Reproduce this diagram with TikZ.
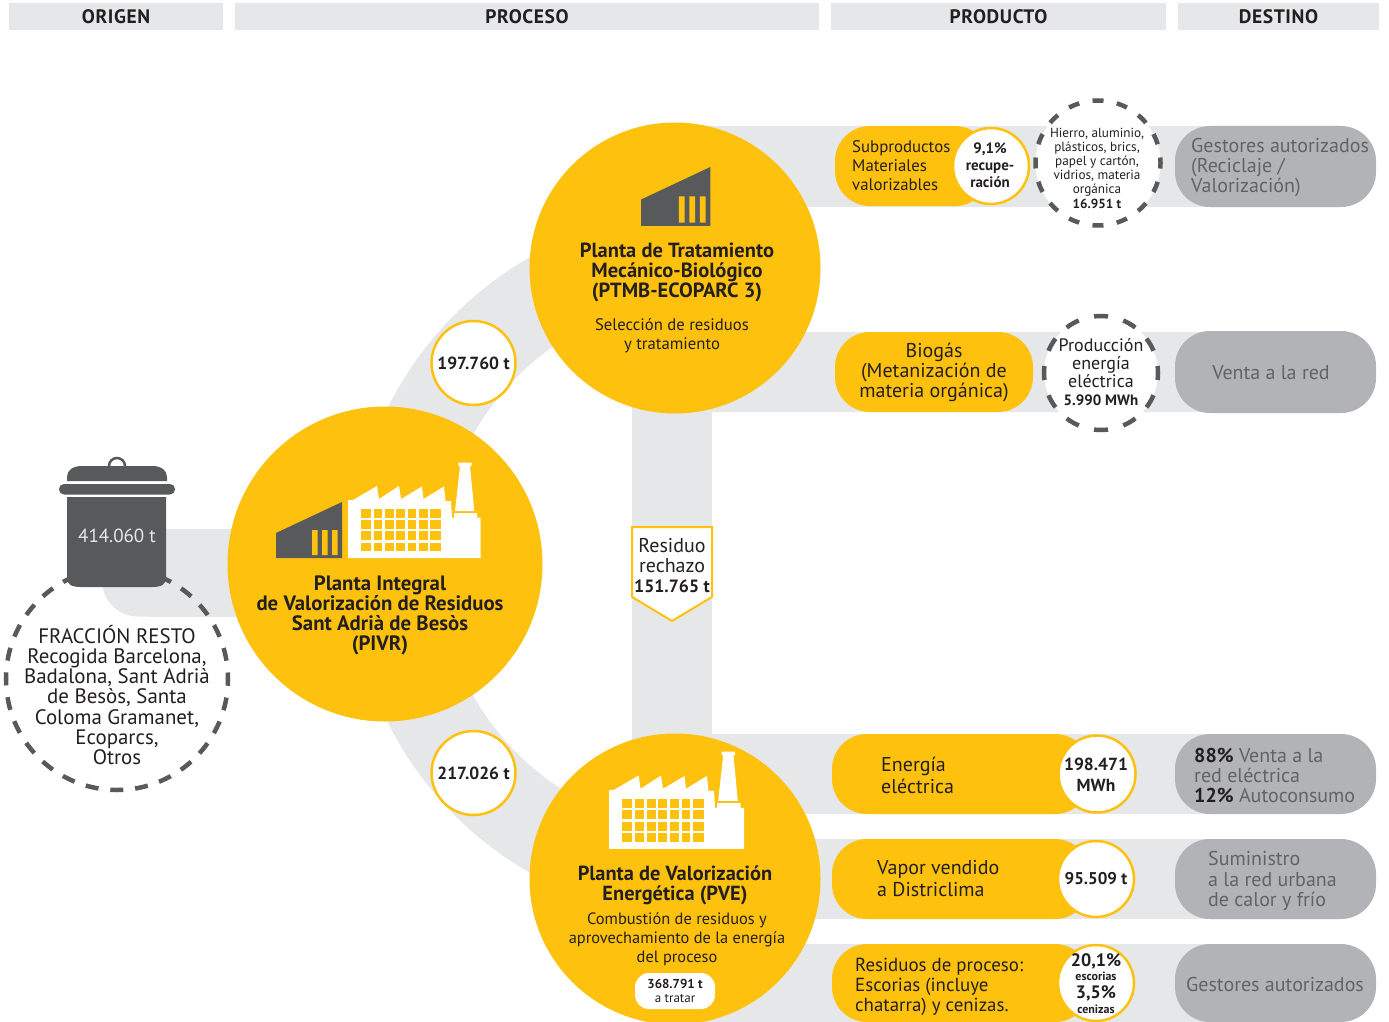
\documentclass[tikz,border=0pt]{standalone}
\usepackage{fontspec}
\setmainfont{PT Sans}
\definecolor{band}{HTML}{E6E7E8}
\definecolor{yel}{HTML}{FEC10E}
\definecolor{dk}{HTML}{58595B}
\definecolor{dest}{HTML}{B1B3B6}
\definecolor{ink}{HTML}{231F20}
\definecolor{desttxt}{HTML}{626366}
\newcommand{\fs}[2]{\fontsize{#1}{#2}\selectfont}
\tikzset{
  x=1pt,y=-1pt,
  hdr/.style={fill=band,minimum height=27pt,inner sep=0pt,font=\fs{19.5}{20}\bfseries\addfontfeature{LetterSpace=3},text=ink},
  bigc/.style={circle,fill=yel,inner sep=0pt},
  pill/.style={rounded corners=35pt,fill=yel,inner sep=0pt},
  destp/.style={rounded corners=35pt,fill=dest,inner sep=0pt},
  valc/.style={circle,fill=white,draw=yel,line width=2.5pt,inner sep=0pt,text=ink,align=center},
  dashc/.style={circle,draw=dk,line width=4.5pt,inner sep=0pt},
  bandl/.style={draw=band,line width=80pt},
  txt/.style={inner sep=0pt,align=center,text=ink},
  ltxt/.style={inner sep=0pt,align=left,text=ink,anchor=west},
  dtxt/.style={inner sep=0pt,align=left,text=desttxt,anchor=west},
}
\newcommand{\factory}{%
  \fill[white] (0,96)--(0,38)--(5,38)--(29,24)--(31,37)--(51,24)--(53,37)--(74,24.5)--(75.5,37)--(96,24.5)--(97.5,39)--(103,39)--(104,55.7)--(106,55.7)--(106,51)--(129,51)--(129,55.7)--(132.5,55.7)--(132.5,96)--cycle;
  \fill[white] (110.3,0.7)--(123.7,0.7)--(123.7,4)--(122,4)--(126.3,49)--(107,49)--(112,4)--(110.3,4)--cycle;
  \foreach \j in {0,...,3}{
    \fill[yel] (13,47+\j*11.2) rectangle ++(10,8.8);
    \fill[yel] (82,47+\j*11.2) rectangle ++(11,8.8);
    \foreach \i in {0,...,4}
      \fill[yel] (25.7+\i*11.35,47+\j*11.2) rectangle ++(8.7,8.8);
  }
}
\newcommand{\dkbuilding}{%
  \fill[dk] (0,56)--(0,31)--(66,0)--(66,56)--cycle;
  \fill[yel] (36,28) rectangle (41.5,53) (46,28) rectangle (51.5,53) (56,28) rectangle (61.5,53);
}
\begin{document}
\begin{tikzpicture}
\useasboundingbox (0,0) rectangle (1389,1022);
\clip (0,0) rectangle (1389,1022);
% headers
\node[hdr,minimum width=214pt] (h1) at (116,16.5) {\raisebox{-3pt}{ORIGEN}};
\node[hdr,minimum width=584pt] (h2) at (527,16.5) {\raisebox{-3pt}{PROCESO}};
\node[hdr,minimum width=335pt] (h3) at (998.5,16.5) {\raisebox{-3pt}{PRODUCTO}};
\node[hdr,minimum width=201pt] (h4) at (1278.5,16.5) {\raisebox{-3pt}{DESTINO}};
% positions
\coordinate (pivrc) at (385,564);
\coordinate (ptmbc) at (675,268);
\coordinate (pvec) at (675,879);
\coordinate (d1c) at (1275.5,166.5);
\coordinate (d2c) at (1275.5,372);
\coordinate (d3c) at (1275.5,774);
\coordinate (d4c) at (1275.5,879);
\coordinate (d5c) at (1275.5,983);
\coordinate (ringc) at (705,565);
% grey flows
\begin{scope}
  \clip (300,0) rectangle (600,1022);
  \draw[draw=band,line width=88pt] (ringc) circle[radius=310pt];
\end{scope}
\fill[band,rounded corners=36pt] (102,529) -- (102,616.5) -- (300,616.5) -- (300,529) -- cycle;
\fill[band] (150,529) rectangle (300,616.5);
\draw[bandl] ([xshift=-3pt]ptmbc) -- ([xshift=-3pt]pvec);
\draw[bandl] (ptmbc |- d1c) -- (d1c);
\draw[bandl] (ptmbc |- d2c) -- (d2c);
\draw[bandl] (pvec |- d3c) -- (d3c);
\draw[bandl] (pvec |- d4c) -- (d4c);
\draw[draw=band,line width=78pt] (pvec |- d5c) -- (d5c);
% solid shapes
\node[bigc,minimum size=315pt] (pivr) at (pivrc) {};
\node[bigc,minimum size=291pt] (ptmb) at (ptmbc) {};
\node[bigc,minimum size=291pt] (pve) at (pvec) {};
\node[destp,minimum width=201pt,minimum height=81pt] (d1) at (d1c) {};
\node[destp,minimum width=201pt,minimum height=82pt] (d2) at (d2c) {};
\node[destp,minimum width=201pt,minimum height=80pt] (d3) at (d3c) {};
\node[destp,minimum width=201pt,minimum height=80pt] (d4) at (d4c) {};
\node[destp,minimum width=201pt,minimum height=78pt] (d5) at (d5c) {};
% yellow pills
\node[pill,minimum width=155pt,minimum height=80pt] (p1) at (912.5,166) {};
\node[pill,minimum width=198pt,minimum height=80pt] (p2) at (934,372) {};
\node[pill,minimum width=258pt,minimum height=80pt] (p3) at (961,774) {};
\node[pill,minimum width=258pt,minimum height=80pt] (p4) at (961,879) {};
\node[pill,minimum width=258pt,minimum height=78pt] (p5) at (961,983) {};
% dashed circles
\node[dashc,minimum size=222pt,dash pattern=on 13pt off 11.9pt,dash phase=6.5pt] (frac) at (117,679) {};
\node[dashc,fill=white,minimum size=125pt,dash pattern=on 11pt off 13.54pt,dash phase=5.5pt] (hier) at (1098,163) {};
\node[dashc,fill=white,minimum size=114pt,dash pattern=on 14pt off 15.84pt,dash phase=7pt] (prod) at (1101,373) {};
% value circles
\node[valc,minimum size=76pt] (v1) at (991,166) {};
\node[valc,minimum size=77pt] (v3) at (1097,774) {};
\node[valc,minimum size=76pt] (v4) at (1096,879) {};
\node[valc,minimum size=76pt] (v5) at (1096,983) {};
\node[valc,minimum size=84pt,font=\fs{17.5}{20}\bfseries] (t1) at (473.5,363) {197.760 t};
\node[valc,minimum size=84pt,font=\fs{17.5}{20}\bfseries] (t2) at (473.5,773) {217.026 t};
% trash can
\draw[dk,line width=2.5pt] (109,466) arc[start angle=180,end angle=0,radius=8pt];
\fill[dk] (67,481) -- (67,477) .. controls (67,470) and (73,466) .. (82,466) -- (152,466) .. controls (161,466) and (167,470) .. (167,477) -- (167,481) -- cycle;
\fill[dk,rounded corners=5pt] (59,484) rectangle (175,494.5);
\fill[dk] (67,497) -- (166,497) -- (166,578) .. controls (166,584) and (162,587) .. (152,587) -- (81,587) .. controls (71,587) and (67,584) .. (67,578) -- cycle;
\node[inner sep=0pt,text=white!85!dk,font=\fs{19}{20}] (tr) at (117,536) {414.060 t};
% factories
\begin{scope}[shift={(276,502)}]\dkbuilding\end{scope}
\begin{scope}[shift={(348,462)}]\factory\end{scope}
\begin{scope}[shift={(641,167)},scale=1.05]\dkbuilding\end{scope}
\begin{scope}[shift={(609,751)},scale=1.02]\factory\end{scope}
% texts
\node[txt,font=\fs{20.8}{20}\bfseries] (tpivr) at (380,615) {Planta Integral\\de Valorización de Residuos\\Sant Adrià de Besòs\\(PIVR)};
\node[txt,font=\fs{20.5}{20}\bfseries] (tptmb) at (677,272) {Planta de Tratamiento\\Mecánico-Biológico\\(PTMB-ECOPARC 3)};
\node[txt,font=\fs{16.7}{19}] (sptmb) at (672,336) {Selección de residuos\\y tratamiento};
\node[txt,font=\fs{20.4}{20}\bfseries] (tpve) at (675,885) {Planta de Valorización\\Energética (PVE)};
\node[txt,font=\fs{16.4}{19}] (spve) at (677,939) {Combustión de residuos y\\aprovechamiento de la energía\\del proceso};
\node[fill=white,rounded corners=14pt,minimum width=80pt,minimum height=36pt,inner sep=0pt,align=center,text=ink,font=\fs{13}{14.5}] (rt) at (675,991) {\textbf{368.791 t}\\a tratar};
\node[txt,font=\fs{20.9}{20.2}] (tfr) at (117,695) {FRACCIÓN RESTO\\Recogida Barcelona,\\Badalona, Sant Adrià\\de Besòs, Santa\\Coloma Gramanet,\\Ecoparcs,\\Otros};
% reject arrow
\draw[fill=white,draw=yel,line width=2pt] (632,527) -- (712,527) -- (712,597) -- (672,621) -- (632,597) -- cycle;
\node[txt,font=\fs{20}{20}] (trj) at (672,566) {Residuo\\rechazo\\\fs{17.8}{20}\textbf{151.765 t}};
% products
\node[ltxt,font=\fs{16.8}{19}] (tp1) at (852,166) {Subproductos\\Materiales\\valorizables};
\node[txt,font=\fs{15}{17}\bfseries] (tv1) at (990,165) {9,1\%\\recupe-\\ración};
\node[txt,font=\fs{13.2}{14.2}] (thi) at (1097,168) {Hierro, aluminio,\\plásticos, brics,\\papel y cartón,\\vidrios, materia\\orgánica\\\textbf{16.951 t}};
\node[txt,font=\fs{20}{20}] (tp2) at (934,372) {Biogás\\(Metanización de\\materia orgánica)};
\node[txt,font=\fs{18}{18}] (tpr) at (1101,372) {Producción\\energía\\eléctrica\\\fs{15}{18}\textbf{5.990 MWh}};
\node[ltxt,font=\fs{20}{22}] (tp3) at (881,775) {Energía\\eléctrica};
\node[txt,font=\fs{17.5}{21}\bfseries] (tv3) at (1096,775) {198.471\\MWh};
\node[ltxt,font=\fs{20}{22}] (tp4) at (877,879) {Vapor vendido\\a Districlima};
\node[txt,font=\fs{17}{20}\bfseries] (tv4) at (1096,879) {95.509 t};
\node[ltxt,font=\fs{18.9}{20}] (tp5) at (855,986.5) {Residuos de proceso:\\Escorias (incluye\\chatarra) y cenizas.};
\node[txt,font=\fs{18}{18}\bfseries] (tv5a) at (1096,961) {20,1\%};
\node[txt,font=\fs{12}{13}\bfseries] (tv5b) at (1096,976) {escorias};
\node[txt,font=\fs{18}{18}\bfseries] (tv5c) at (1096,993) {3,5\%};
\node[txt,font=\fs{12}{13}\bfseries] (tv5d) at (1096,1009) {cenizas};
% destinations
\node[dtxt,font=\fs{20}{20}] (td1) at (1191,168) {Gestores autorizados\\(Reciclaje /\\Valorización)};
\node[txt,text=desttxt,font=\fs{20}{20}] (td2) at (1271,373) {Venta a la red};
\node[dtxt,font=\fs{20}{20}] (td3) at (1194,775) {\textcolor{ink}{\textbf{88\%}} Venta a la\\red eléctrica\\\textcolor{ink}{\textbf{12\%}} Autoconsumo};
\node[dtxt,font=\fs{20}{20.5}] (td4) at (1208,881) {Suministro\\a la red urbana\\de calor y frío};
\node[txt,text=desttxt,font=\fs{20}{20}] (td5) at (1275,984) {Gestores autorizados};
\end{tikzpicture}
\end{document}
